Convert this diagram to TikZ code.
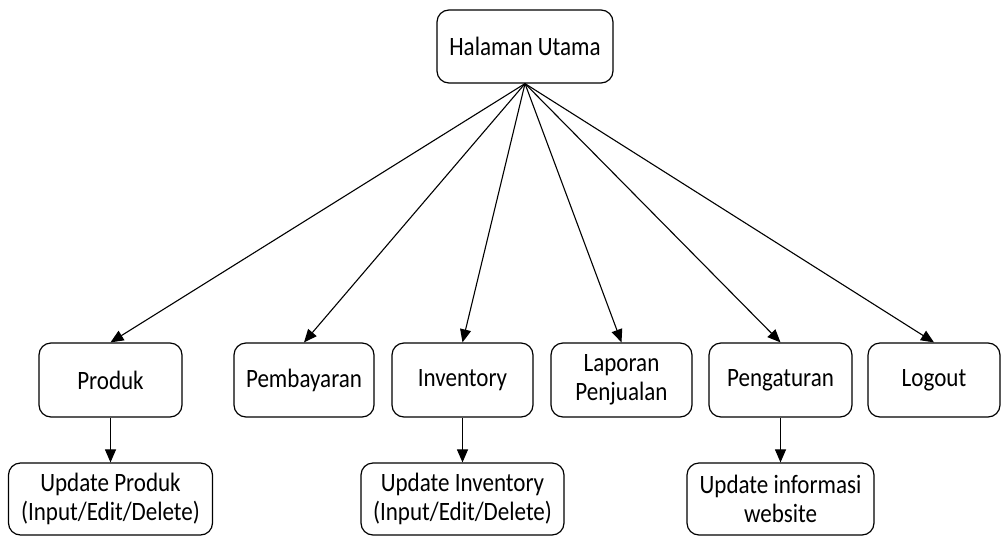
\documentclass[tikz,border=0pt]{standalone}
\usepackage{fontspec}
\setmainfont{Carlito}[FakeStretch=0.87]
\usetikzlibrary{arrows.meta}
\begin{document}
\begin{tikzpicture}[x=1pt,y=-1pt,
  box/.style={draw, rounded corners=12pt, line width=1.2pt, align=center,
    inner sep=0pt, font=\fontsize{26.5}{29}\selectfont},
  toprow/.style={box, minimum height=73pt},
  midrow/.style={box, minimum height=74pt},
  botrow/.style={box, minimum height=72pt},
  conn/.style={line width=1.1pt, -{Triangle[length=13pt,width=11pt]}}]
\useasboundingbox (0,0) rectangle (1001,536);
\node[toprow, minimum width=176pt] (top) at (525,46.5) {Halaman Utama};
\node[midrow, minimum width=143pt] (produk) at (110.5,380) {Produk};
\node[midrow, minimum width=140pt] (pemb) at (304,380) {Pembayaran};
\node[midrow, minimum width=141pt] (inv) at (462.5,380) {Inventory};
\node[midrow, minimum width=141pt] (lap) at (621.5,380) {Laporan\\Penjualan};
\node[midrow, minimum width=143pt] (peng) at (780.5,380) {Pengaturan};
\node[midrow, minimum width=132pt] (logout) at (934,380) {Logout};
\node[botrow, minimum width=204pt] (upprod) at (110.5,499) {Update Produk\\(Input/Edit/Delete)};
\node[botrow, minimum width=203pt] (upinv) at (462.5,499) {Update Inventory\\(Input/Edit/Delete)};
\node[botrow, minimum width=187pt] (upinfo) at (780.5,499) {Update informasi\\website};
\foreach \n in {produk,pemb,inv,lap,peng,logout}
  \draw[conn] (top.south) -- (\n.north);
\draw[conn] (produk.south) -- (upprod.north);
\draw[conn] (inv.south) -- (upinv.north);
\draw[conn] (peng.south) -- (upinfo.north);
\end{tikzpicture}
\end{document}
